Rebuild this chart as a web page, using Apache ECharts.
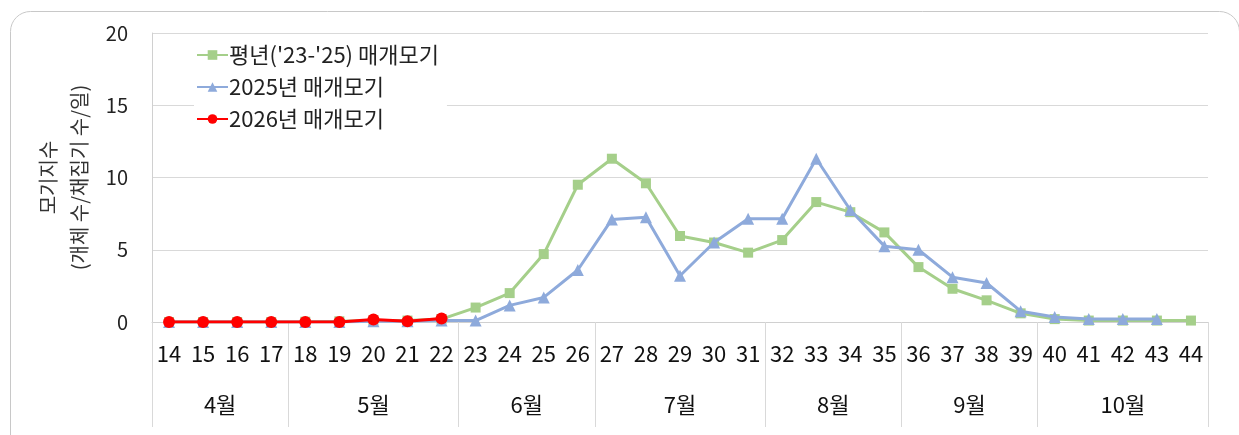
<!DOCTYPE html>
<html><head><meta charset="utf-8">
<script src="https://cdn.jsdelivr.net/npm/echarts@6/dist/echarts.min.js"></script>
<style>html,body{margin:0;padding:0;background:#fff}#c{width:1239px;height:435px}</style>
</head><body><div id="c"></div>
<script>
const weeks = ['14','15','16','17','18','19','20','21','22','23','24','25','26','27','28','29','30','31','32','33','34','35','36','37','38','39','40','41','42','43','44'];
const monthNames = ['4월','5월','6월','7월','8월','9월','10월'];
const monthStart = [0,4,9,13,18,22,26]; // index of first week in each month
const avgSeries = [0,0,0,0,0.02,0.05,0.1,0.1,0.2,1.0,2.0,4.7,9.5,11.3,9.6,5.95,5.5,4.8,5.67,8.3,7.6,6.2,3.8,2.3,1.5,0.6,0.2,0.1,0.1,0.1,0.1];
const y2025 = [0,0,0,0,0,0,0.05,0.05,0.1,0.1,1.15,1.7,3.6,7.1,7.25,3.2,5.5,7.15,7.15,11.3,7.75,5.25,5.0,3.1,2.7,0.75,0.35,0.2,0.2,0.2,null];
const y2026 = [0,0,0,0,0,0,0.18,0.05,0.25,null,null,null,null,null,null,null,null,null,null,null,null,null,null,null,null,null,null,null,null,null,null];
const yTicks = [0,5,10,15,20];

const n = weeks.length;
const monthCenters = monthStart.map((s,i)=>{const e = i+1<monthStart.length?monthStart[i+1]:n; return (s+e)/2;});

const font = '"Noto Sans CJK KR","Noto Sans",sans-serif';
const chart = echarts.init(document.getElementById('c'));
chart.setOption({
  animation:false,
  textStyle:{fontFamily:font},
  graphic:[{type:'rect',left:8,top:9,shape:{width:1229,height:450,r:20},style:{fill:'none',stroke:'#c8c8c8',lineWidth:1},silent:true,z:-10}],
  grid:{left:152,right:31,top:33,bottom:113,containLabel:false},
  legend:{
    orient:'vertical',left:194,top:42,itemWidth:31,itemHeight:12,itemGap:10,
    backgroundColor:'#fff',padding:[2,8,2,2],
    textStyle:{fontFamily:font,fontSize:22,color:'#222',padding:[0,0,0,-4]},
    data:["평년('23-'25) 매개모기",'2025년 매개모기','2026년 매개모기']
  },
  xAxis:[{
    type:'category',data:weeks,boundaryGap:true,position:'bottom',
    axisLine:{show:true,lineStyle:{color:'#d0d0d0',width:1}},
    axisTick:{show:true,length:105,lineStyle:{color:'#d9d9d9'},interval:function(i){return monthStart.indexOf(i)>=0;}},
    axisLabel:{interval:0,fontSize:22,color:'#111',margin:21,fontFamily:font},
    splitLine:{show:false}
  },{
    type:'value',min:0,max:n,interval:0.5,position:'bottom',
    axisLine:{show:false},axisTick:{show:false},splitLine:{show:false},
    axisLabel:{show:true,margin:72,fontSize:22,color:'#111',fontFamily:font,showMinLabel:true,showMaxLabel:true,
      formatter:function(v){const k=monthCenters.indexOf(v);return k>=0?monthNames[k]:'';}}
  }],
  yAxis:{
    type:'value',min:yTicks[0],max:yTicks[yTicks.length-1],interval:5,
    name:'모기지수\n(개체 수/채집기 수/일)',nameLocation:'middle',nameGap:57,nameRotate:90,nameMoveOverlap:false,
    nameTextStyle:{fontSize:20,color:'#333',lineHeight:31,fontFamily:font},
    axisLine:{show:true,lineStyle:{color:'#d0d0d0'}},
    axisTick:{show:false},
    axisLabel:{fontSize:20,color:'#222',margin:24,fontFamily:font},
    splitLine:{show:true,lineStyle:{color:'#d9d9d9',width:1}}
  },
  series:[
    {name:"평년('23-'25) 매개모기",type:'line',data:avgSeries,symbol:'rect',symbolSize:10,
      lineStyle:{color:'#a5cf8a',width:3},itemStyle:{color:'#a5cf8a'},z:2},
    {name:'2025년 매개모기',type:'line',data:y2025,symbol:'triangle',symbolSize:12,
      lineStyle:{color:'#8eaadb',width:3},itemStyle:{color:'#8eaadb'},z:3},
    {name:'2026년 매개모기',type:'line',data:y2026,symbol:'circle',symbolSize:12,
      lineStyle:{color:'#ff0000',width:3},itemStyle:{color:'#ff0000'},z:4}
  ]
});
</script></body></html>
